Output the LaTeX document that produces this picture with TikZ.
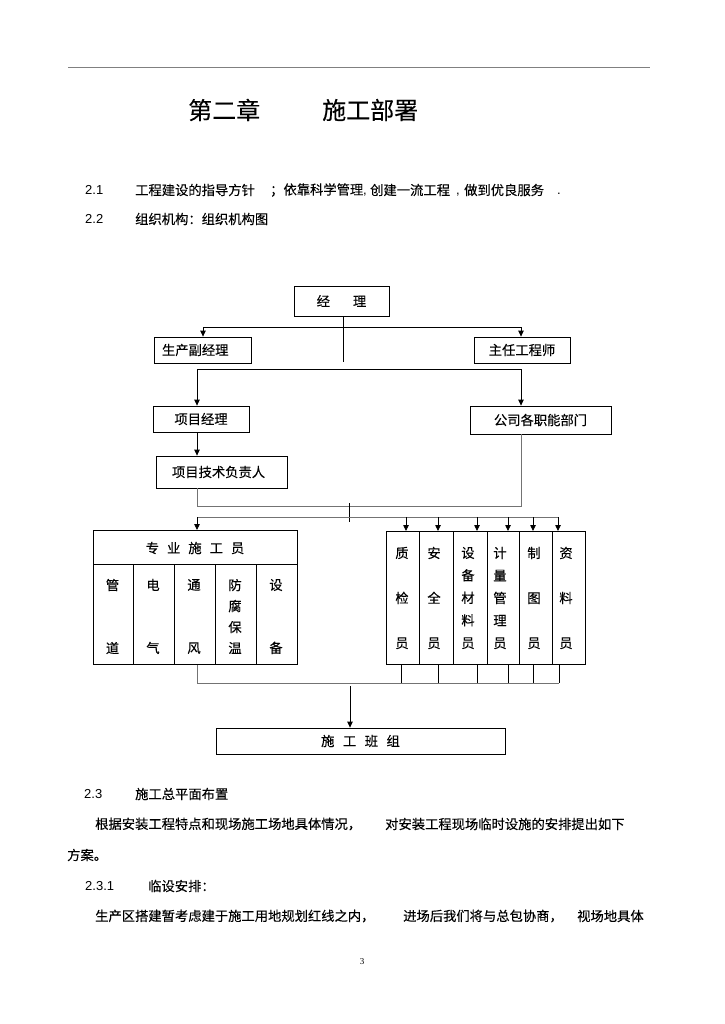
\documentclass[tikz,border=0pt]{standalone}
\usepackage{fontspec}
\setmainfont{Liberation Sans}
\newfontfamily\cjk[FakeBold=0.15]{Noto Sans CJK SC}
\newfontfamily\pgnum{Liberation Serif}
\usetikzlibrary{arrows.meta}
\begin{document}
\begin{tikzpicture}[x=1pt,y=-1pt,
  txt/.style={font=\cjk\fontsize{13.3pt}{16pt}\selectfont, inner sep=0pt},
  num/.style={font=\fontsize{13pt}{15pt}\selectfont, inner sep=0pt},
  box/.style={draw=black, line width=0.8pt, inner sep=0pt, font=\cjk\fontsize{13.3pt}{16pt}\selectfont},
  conn/.style={draw=black, line width=0.8pt},
  gconn/.style={draw=black!55, line width=0.8pt},
  arr/.style={conn, -{Triangle[length=6pt,width=5.5pt]}},
  colA/.style={txt, align=center, font=\cjk\fontsize{13.3pt}{22.5pt}\selectfont},
  colB/.style={txt, align=center, font=\cjk\fontsize{13.3pt}{45pt}\selectfont},
  colC/.style={txt, align=center, font=\cjk\fontsize{13.3pt}{63pt}\selectfont},
  colD/.style={txt, align=center, font=\cjk\fontsize{13.3pt}{21pt}\selectfont},
]
\fill[white] (0,0) rectangle (724,1024);
\useasboundingbox (0,0) rectangle (724,1024);

% header rule and title
\coordinate (r1) at (68,68);
\coordinate (r2) at (650,68);
\draw[black!50, line width=1pt] (r1) -- (r2);
\node[font=\cjk\fontsize{24pt}{28pt}\selectfont, inner sep=0pt, anchor=west] (t1) at (188,110) {第二章};
\node[font=\cjk\fontsize{24pt}{28pt}\selectfont, inner sep=0pt, anchor=west] (t2) at (322,110) {施工部署};

% 2.1 / 2.2
\node[num, anchor=west] (n21) at (85,190) {2.1};
\node[txt, anchor=west] (s21a) at (135,190) {工程建设的指导方针};
\node[txt, anchor=west] (s21b) at (270,190) {；依靠科学管理};
\node[num, anchor=west] (s21k1) at (363,195) {,};
\node[txt, anchor=west] (s21c) at (370,190) {创建一流工程};
\node[num, anchor=west] (s21k2) at (456,195) {,};
\node[txt, anchor=west] (s21d) at (464,190) {做到优良服务};
\node[num, anchor=west] (s21e) at (557,194) {.};
\node[num, anchor=west] (n22) at (85,219) {2.2};
\node[txt, anchor=west] (s22) at (135,219) {组织机构：组织机构图};

% chart boxes
\node[box, minimum width=95pt, minimum height=30pt] (jl) at (341.5,301) {经\hspace{23pt}理};
\node[box, minimum width=97pt, minimum height=26pt, text width=81pt, align=left, inner xsep=8pt] (scfjl) at (202.5,350) {生产副经理};
\node[box, minimum width=96pt, minimum height=26pt] (zrgcs) at (522,350) {主任工程师};
\node[box, minimum width=96pt, minimum height=26pt] (xmjl) at (201,419) {项目经理};
\node[box, minimum width=141pt, minimum height=28pt] (gsbm) at (540.5,420) {公司各职能部门};
\node[box, minimum width=131pt, minimum height=32pt, text width=99pt, align=left, inner xsep=16pt] (jsfz) at (221.5,472) {项目技术负责人};

% connectors top
\coordinate (j1) at (343,362);
\draw[conn] (jl.south -| j1) -- (j1);
\coordinate (h1l) at (203,327);
\coordinate (h1r) at (521,327);
\draw[conn] (h1l) -- (h1r);
\draw[arr] (h1l) -- (h1l |- scfjl.north);
\draw[arr] (h1r) -- (h1r |- zrgcs.north);
\coordinate (h2l) at (197,369);
\coordinate (h2r) at (521,369);
\draw[conn] (h2l) -- (h2r);
\draw[arr] (h2l) -- (h2l |- xmjl.north);
\draw[arr] (h2r) -- (h2r |- gsbm.north);
\draw[arr] (xmjl.south -| h2l) -- (jsfz.north -| h2l);
\coordinate (h3l) at (197,506);
\coordinate (h3r) at (521,506);
\draw[gconn] (jsfz.south -| h3l) -- (h3l) -- (h3r) -- (gsbm.south -| h3r);
\coordinate (tk1) at (349,503);
\coordinate (tk2) at (349,522);
\draw[conn] (tk1) -- (tk2);
\coordinate (h4l) at (197,517);
\coordinate (h4r) at (558,517);
\draw[gconn] (h4l) -- (h4r);

% left group
\node[box, minimum width=204pt, minimum height=134pt, anchor=north west] (zy) at (93,530) {};
\coordinate (zh1) at (93,564);
\coordinate (zh2) at (297,564);
\draw[conn] (zh1) -- (zh2);
\foreach \xx in {133,174,215,256} {\draw[conn] (\xx,564) -- (\xx,664);}
\node[txt] (zyh) at (195,548) {专\hspace{8pt}业\hspace{8pt}施\hspace{8pt}工\hspace{8pt}员};
\node[colC] (l1) at (112.5,616.5) {管\\道};
\node[colC] (l2) at (153,616.5) {电\\气};
\node[colC] (l3) at (194,616.5) {通\\风};
\node[colD] (l4) at (235,616.5) {防\\腐\\保\\温};
\node[colC] (l5) at (276,616.5) {设\\备};
\draw[arr] (h4l) -- (h4l |- zy.north);

% right group
\node[box, minimum width=33pt, minimum height=133pt, anchor=north west] (c1) at (386,531) {};
\node[box, minimum width=34pt, minimum height=133pt, anchor=north west] (c2) at (419,531) {};
\node[box, minimum width=34pt, minimum height=133pt, anchor=north west] (c3) at (453,531) {};
\node[box, minimum width=32pt, minimum height=133pt, anchor=north west] (c4) at (487,531) {};
\node[box, minimum width=33pt, minimum height=133pt, anchor=north west] (c5) at (519,531) {};
\node[box, minimum width=33pt, minimum height=133pt, anchor=north west] (c6) at (552,531) {};
\node[colB] (t1c) at (402,598) {质\\检\\员};
\node[colB] (t2c) at (434,598) {安\\全\\员};
\node[colA] (t3c) at (468,598) {设\\备\\材\\料\\员};
\node[colA] (t4c) at (500,598) {计\\量\\管\\理\\员};
\node[colB] (t5c) at (534,598) {制\\图\\员};
\node[colB] (t6c) at (566,598) {资\\料\\员};
\coordinate (a1) at (406,517);
\coordinate (a2) at (438,517);
\coordinate (a3) at (477,517);
\coordinate (a4) at (508,517);
\coordinate (a5) at (533,517);
\coordinate (a6) at (558,517);
\draw[arr] (a1) -- (a1 |- c1.north);
\draw[arr] (a2) -- (a2 |- c2.north);
\draw[arr] (a3) -- (a3 |- c3.north);
\draw[arr] (a4) -- (a4 |- c4.north);
\draw[arr] (a5) -- (a5 |- c5.north);
\draw[arr] (a6) -- (a6 |- c6.north);

% bottom connectors
\coordinate (bl) at (197,683);
\coordinate (b1) at (401,683);
\coordinate (b2) at (438,683);
\coordinate (b3) at (477,683);
\coordinate (b4) at (508,683);
\coordinate (b5) at (533,683);
\coordinate (b6) at (559,683);
\draw[gconn] (zy.south -| bl) -- (bl) -- (b6);
\draw[conn] (c1.south -| b1) -- (b1);
\draw[conn] (c2.south -| b2) -- (b2);
\draw[conn] (c3.south -| b3) -- (b3);
\draw[conn] (c4.south -| b4) -- (b4);
\draw[conn] (c5.south -| b5) -- (b5);
\draw[conn] (c6.south -| b6) -- (b6);
\node[box, minimum width=289pt, minimum height=26pt] (bz) at (360.5,741) {施\hspace{8.5pt}工\hspace{8.5pt}班\hspace{8.5pt}组};
\coordinate (ba) at (350,686);
\draw[arr] (ba) -- (ba |- bz.north);

% lower text
\node[num, anchor=west] (n23) at (84,794) {2.3};
\node[txt, anchor=west] (s23) at (135,794) {施工总平面布置};
\node[txt, anchor=west] (p1a) at (95,824) {根据安装工程特点和现场施工场地具体情况，};
\node[txt, anchor=west] (p1b) at (385,824) {对安装工程现场临时设施的安排提出如下};
\node[txt, anchor=west] (p1c) at (67,855) {方案。};
\node[num, anchor=west] (n231) at (85,886) {2.3.1};
\node[txt, anchor=west] (s231) at (148,886) {临设安排：};
\node[txt, anchor=west] (p2a) at (95,916) {生产区搭建暂考虑建于施工用地规划红线之内，};
\node[txt, anchor=west] (p2b) at (403,916) {进场后我们将与总包协商，};
\node[txt, anchor=west] (p2c) at (577,916) {视场地具体};
\node[font=\pgnum\fontsize{9pt}{11pt}\selectfont, inner sep=0pt] (pg) at (362,962) {3};
\end{tikzpicture}
\end{document}
